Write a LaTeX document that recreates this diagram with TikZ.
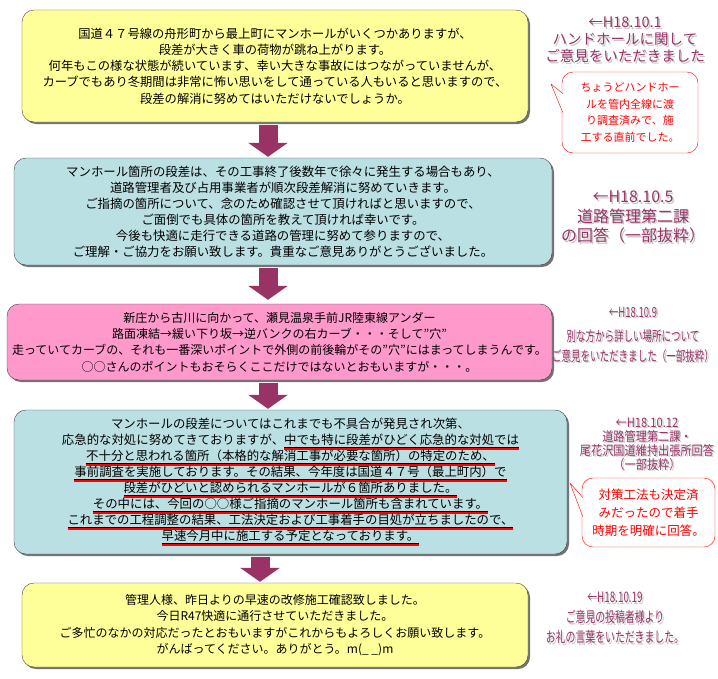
\documentclass[tikz,border=0pt]{standalone}
\usepackage{fontspec}
\setmainfont{Noto Sans CJK JP}
\newfontfamily\jpnarrow[FakeStretch=0.68]{Noto Sans CJK JP}
\newfontfamily\jpcond[FakeStretch=0.86]{Noto Sans CJK JP}
\usetikzlibrary{arrows.meta,shadows,calc}

\definecolor{qyellow}{HTML}{FFFF99}
\definecolor{qblue}{HTML}{BBE0E3}
\definecolor{qpink}{HTML}{FF99CC}
\definecolor{plum}{HTML}{993366}

\tikzset{
  msgbox/.style={draw=black!75, rounded corners=12pt, align=center, inner sep=0pt,
    drop shadow={shadow xshift=2pt, shadow yshift=-2pt, fill=black!55, opacity=1}},
  flow/.style={draw=plum, line width=19pt, shorten >=1pt,
    -{Triangle[width=39pt, length=14pt]}},
  remark/.style={draw=red, fill=white, rounded corners=11pt, text=red,
    align=center, inner sep=0pt},
  remarktip/.style={draw=red, fill=white, line join=round},
  datenote/.style={text=plum, align=center, inner sep=0pt},
  noteshade/.style={text=black!22, align=center, inner sep=0pt}
}

% date note with its grey shadow
\newcommand\datenote[4]{%
  \node[noteshade, font=#3] at ($(#2)+(1.5,1.5)$) {#4};
  \node[datenote, font=#3] (#1) at (#2) {#4};}

% red underline
\newcommand\ulred[1]{\setbox0=\hbox{#1}%
  \rlap{\rule[-2pt]{\wd0}{0.4pt}}%
  \rlap{\textcolor{red}{\rule[-4.6pt]{\wd0}{1.6pt}}}\box0}

\begin{document}
\begin{tikzpicture}[x=1pt, y=-1pt]

\useasboundingbox (0,0) rectangle (718,678);

% Messages
\node[msgbox, fill=qyellow, minimum width=506pt, minimum height=112pt,
  font=\fontsize{12.3}{16.3}\selectfont] (q1) at (275,66)
  {国道４７号線の舟形町から最上町にマンホールがいくつかありますが、\\
   段差が大きく車の荷物が跳ね上がります。\\
   何年もこの様な状態が続いています、幸い大きな事故にはつながっていませんが、\\
   カーブでもあり冬期間は非常に怖い思いをして通っている人もいると思いますので、\\
   段差の解消に努めてはいただけないでしょうか。};

\node[msgbox, fill=qblue, minimum width=538pt, minimum height=107pt,
  font=\fontsize{12.4}{16}\selectfont] (a1) at (283,211.5)
  {マンホール箇所の段差は、その工事終了後数年で徐々に発生する場合もあり、\\
   道路管理者及び占用事業者が順次段差解消に努めていきます。\\
   ご指摘の箇所について、念のため確認させて頂ければと思いますので、\\
   ご面倒でも具体の箇所を教えて頂ければ幸いです。\\
   今後も快適に走行できる道路の管理に努めて参りますので、\\
   ご理解・ご協力をお願い致します。貴重なご意見ありがとうございました。};

\node[msgbox, fill=qpink, minimum width=545pt, minimum height=76pt,
  font=\fontsize{12}{16.3}\selectfont] (q2) at (279.5,342)
  {新庄から古川に向かって、瀬見温泉手前JR陸東線アンダー\\
   路面凍結→緩い下り坂→逆バンクの右カーブ・・・そして"穴"\\
   走っていてカーブの、それも一番深いポイントで外側の前後輪がその"穴"にはまってしまうんです。\\
   ○○さんのポイントもおそらくここだけではないとおもいますが・・・。};

\node[msgbox, fill=qblue, minimum width=553pt, minimum height=144pt,
  font=\fontsize{12.4}{16}\selectfont] (a2) at (290.5,482)
  {マンホールの段差についてはこれまでも不具合が発見され次第、\\
   応急的な対処に努めてきておりますが、\ulred{中でも特に段差がひどく応急的な対処では}\\
   \ulred{不十分と思われる箇所（本格的な解消工事が必要な箇所）の特定のため、}\\
   \ulred{事前調査を実施しております。その結果、今年度は国道４７号（最上町内）で}\\
   \ulred{段差がひどいと認められるマンホールが６箇所ありました。}\\
   \ulred{その中には、今回の○○様ご指摘のマンホール箇所も含まれています。}\\
   \ulred{これまでの工程調整の結果、工法決定および工事着手の目処が立ちましたので、}\\
   \ulred{早速今月中に施工する予定となっております。}};

\node[msgbox, fill=qyellow, minimum width=506pt, minimum height=84pt,
  font=\fontsize{12}{16.3}\selectfont] (q3) at (275,625)
  {管理人様、昨日よりの早速の改修施工確認致しました。\\
   今日R47快適に通行させていただきました。\\
   ご多忙のなかの対応だったとおもいますがこれからもよろしくお願い致します。\\
   がんばってください。ありがとう。m(\_ \_)m};

% Arrows
\coordinate (ax) at (268,0);
\coordinate (bx) at (260,0);
\draw[flow] ($(q1.south -| ax)+(0,3)$) -- (a1.north -| ax);
\draw[flow] ($(a1.south -| ax)+(0,3)$) -- ($(q2.north -| ax)+(0,-3)$);
\draw[flow] ($(q2.south -| ax)+(0,3)$) -- (a2.north -| ax);
\draw[flow] ($(a2.south -| bx)+(0,3)$) -- (q3.north -| bx);

% Dates
\datenote{d1}{625,40}{\fontsize{14.5}{17}\selectfont}
  {←H18.10.1\\ハンドホールに関して\\ご意見をいただきました}
\datenote{d2}{633,217}{\fontsize{16}{19.5}\selectfont}
  {←H18.10.5\\道路管理第二課\\の回答（一部抜粋）}
\datenote{d3}{633,335}{\jpnarrow\fontsize{14}{20}\selectfont}
  {←H18.10.9\\[4pt]別な方から詳しい場所について\\ご意見をいただきました（一部抜粋）}
\datenote{d4}{647,444}{\jpcond\fontsize{13}{14}\selectfont}
  {←H18.10.12\\道路管理第二課・\\尾花沢国道維持出張所回答\\（一部抜粋）}
\datenote{d5}{615,618}{\jpnarrow\fontsize{14.5}{20}\selectfont}
  {←H18.10.19\\ご意見の投稿者様より\\お礼の言葉をいただきました。}

% Remarks
\node[remark, minimum width=136pt, minimum height=81pt,
  font=\fontsize{11}{16.7}\selectfont] (r1) at (630,112.5)
  {ちょうどハンドホー\\ルを管内全線に渡\\り調査済みで、施\\工する直前でした。};
\coordinate (t1) at (551,84);
\draw[remarktip] ($(r1.west)+(1,-19)$) -- (t1) -- ($(r1.west)+(1,0)$);

\node[remark, minimum width=133pt, minimum height=69pt,
  font=\fontsize{12.5}{18}\selectfont] (r2) at (648.5,512.5)
  {対策工法も決定済\\みだったので着手\\時期を明確に回答。};
\coordinate (t2) at (570,483);
\draw[remarktip] ($(r2.west)+(1,-15)$) -- (t2) -- ($(r2.west)+(1,4)$);

\end{tikzpicture}
\end{document}
